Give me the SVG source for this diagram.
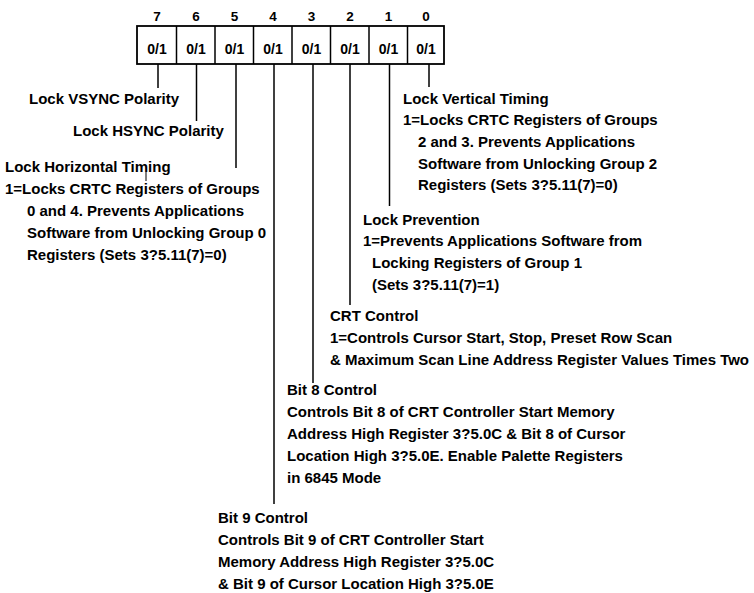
<svg xmlns="http://www.w3.org/2000/svg" width="754" height="593" viewBox="0 0 754 593">
<style>
text{font-family:"Liberation Sans",Arial,Helvetica,sans-serif;font-weight:bold;fill:#000}
.t{font-size:15px}
.num{font-size:13.5px;text-anchor:middle}
.cell{font-size:14px;text-anchor:middle}
.ln{stroke:#000;stroke-width:1.5;fill:none}
.box{stroke:#000;stroke-width:1.8;fill:#fff}
</style>
<rect width="754" height="593" fill="#fff"/>
<g id="register">
<rect class="box" x="137" y="26" width="307" height="38"/>
<g class="ln">
<line x1="176.5" y1="26" x2="176.5" y2="64"/>
<line x1="215" y1="26" x2="215" y2="64"/>
<line x1="253.5" y1="26" x2="253.5" y2="64"/>
<line x1="292" y1="26" x2="292" y2="64"/>
<line x1="330.5" y1="26" x2="330.5" y2="64"/>
<line x1="369" y1="26" x2="369" y2="64"/>
<line x1="407.5" y1="26" x2="407.5" y2="64"/>
</g>
<text class="num" x="157" y="21">7</text>
<text class="num" x="196" y="21">6</text>
<text class="num" x="234.5" y="21">5</text>
<text class="num" x="273" y="21">4</text>
<text class="num" x="311.5" y="21">3</text>
<text class="num" x="350" y="21">2</text>
<text class="num" x="388.5" y="21">1</text>
<text class="num" x="426" y="21">0</text>
<text class="cell" x="157" y="54">0/1</text>
<text class="cell" x="196" y="54">0/1</text>
<text class="cell" x="234.5" y="54">0/1</text>
<text class="cell" x="273" y="54">0/1</text>
<text class="cell" x="311.5" y="54">0/1</text>
<text class="cell" x="350" y="54">0/1</text>
<text class="cell" x="388.5" y="54">0/1</text>
<text class="cell" x="426" y="54">0/1</text>
</g>
<g id="connectors" class="ln">
<line x1="158" y1="64" x2="158" y2="88"/>
<line x1="196.5" y1="64" x2="196.5" y2="121"/>
<line x1="236" y1="64" x2="236" y2="168"/>
<line x1="274" y1="64" x2="274" y2="504"/>
<line x1="313" y1="64" x2="313" y2="383"/>
<line x1="350" y1="64" x2="350" y2="305"/>
<line x1="389.5" y1="64" x2="389.5" y2="206"/>
<line x1="429" y1="64" x2="429" y2="87"/>
<line x1="146" y1="172" x2="146" y2="181" stroke-width="1"/>
</g>
<g id="bit7"><text class="t" x="29" y="104">Lock VSYNC Polarity</text></g>
<g id="bit6"><text class="t" x="73" y="136">Lock HSYNC Polarity</text></g>
<g id="bit5">
<text class="t" x="5" y="172">Lock Horizontal Timing</text>
<text class="t" x="5" y="194">1=Locks CRTC Registers of Groups</text>
<text class="t" x="27" y="216">0 and 4. Prevents Applications</text>
<text class="t" x="27" y="238">Software from Unlocking Group 0</text>
<text class="t" x="27" y="260">Registers (Sets 3?5.11(7)=0)</text>
</g>
<g id="bit0">
<text class="t" x="403" y="104">Lock Vertical Timing</text>
<text class="t" x="403" y="125">1=Locks CRTC Registers of Groups</text>
<text class="t" x="418" y="147">2 and 3. Prevents Applications</text>
<text class="t" x="418" y="169">Software from Unlocking Group 2</text>
<text class="t" x="418" y="190">Registers (Sets 3?5.11(7)=0)</text>
</g>
<g id="bit1">
<text class="t" x="363" y="225">Lock Prevention</text>
<text class="t" x="363" y="246">1=Prevents Applications Software from</text>
<text class="t" x="372" y="268">Locking Registers of Group 1</text>
<text class="t" x="372" y="290">(Sets 3?5.11(7)=1)</text>
</g>
<g id="bit2">
<text class="t" x="330" y="321">CRT Control</text>
<text class="t" x="330" y="343">1=Controls Cursor Start, Stop, Preset Row Scan</text>
<text class="t" x="330" y="365">&amp; Maximum Scan Line Address Register Values Times Two</text>
</g>
<g id="bit3">
<text class="t" x="287" y="395">Bit 8 Control</text>
<text class="t" x="287" y="417">Controls Bit 8 of CRT Controller Start Memory</text>
<text class="t" x="287" y="439">Address High Register 3?5.0C &amp; Bit 8 of Cursor</text>
<text class="t" x="287" y="461">Location High 3?5.0E. Enable Palette Registers</text>
<text class="t" x="287" y="483">in 6845 Mode</text>
</g>
<g id="bit4">
<text class="t" x="218" y="523">Bit 9 Control</text>
<text class="t" x="218" y="545">Controls Bit 9 of CRT Controller Start</text>
<text class="t" x="218" y="567">Memory Address High Register 3?5.0C</text>
<text class="t" x="218" y="589">&amp; Bit 9 of Cursor Location High 3?5.0E</text>
</g>
</svg>
